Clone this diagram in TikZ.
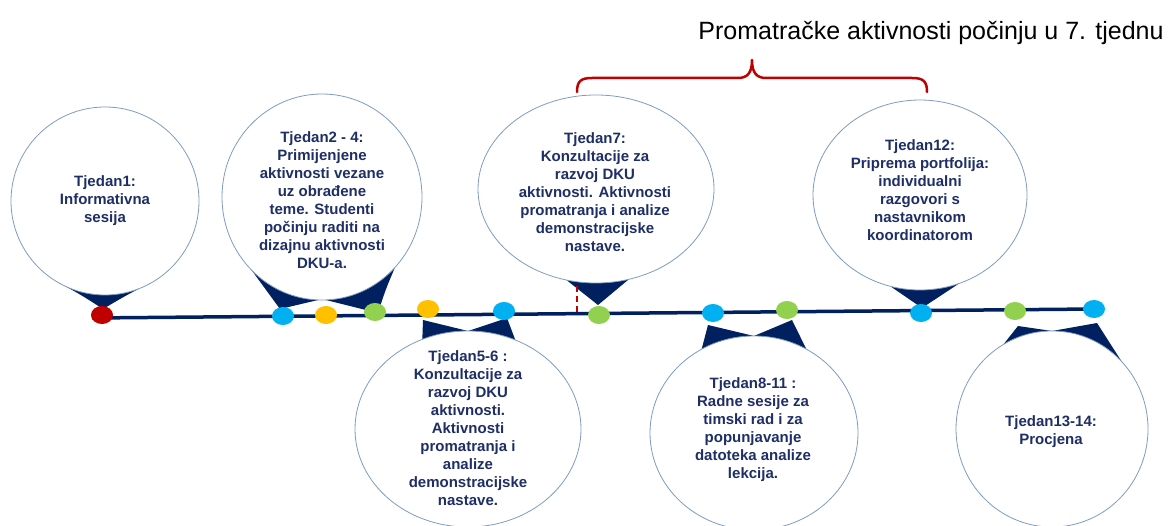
\documentclass[tikz,border=0pt]{standalone}
\usepackage{fontspec}
\setmainfont{Liberation Sans}
\usetikzlibrary{shapes.geometric,calc}
\pgfdeclarelayer{bg}
\pgfsetlayers{bg,main}
\definecolor{navy}{HTML}{002060}
\definecolor{txtnavy}{HTML}{1F2F66}
\definecolor{ring}{HTML}{7F9CC0}
\definecolor{dred}{HTML}{C00000}
\definecolor{dblue}{HTML}{00B0F0}
\definecolor{dorange}{HTML}{FFC000}
\definecolor{dgreen}{HTML}{92D050}
\tikzset{
 bubble/.style={ellipse, draw=ring, line width=0.8pt, fill=white, inner sep=0pt, outer sep=0pt},
 btext/.style={align=center, text=txtnavy, font=\fontsize{15}{18}\selectfont\bfseries, inner sep=0pt},
 dot/.style={ellipse, minimum width=22pt, minimum height=18pt, inner sep=0pt},
 tailfill/.style={fill=navy},
 timeline/.style={draw=navy, line width=3.5pt},
 brace/.style={draw=dred, line width=2.5pt, line cap=round, line join=round},
 marker/.style={draw=dred, line width=2.5pt, dash pattern=on 6pt off 4pt},
 title/.style={font=\fontsize{25}{30}\selectfont, text=black, inner sep=0pt},
}
\newcommand\calltail[3]{%
 \coordinate (tm) at ($(#1)!.5!(#3)$);
 \fill[tailfill] (#1) .. controls ($(#1)!.5!(#2)!.04!(tm)$) .. (#2)
   .. controls ($(#2)!.5!(#3)!.04!(tm)$) .. (#3) -- cycle;}
\begin{document}
\begin{tikzpicture}[x=1pt,y=-1pt]
\useasboundingbox (0,0) rectangle (1169,526);

% bubbles
\node[bubble, minimum width=188pt, minimum height=188pt] (c1) at (105,201) {};
\node[btext] (x1) at (105,201) {Tjedan1:\\Informativna\\sesija};
\node[bubble, minimum width=200pt, minimum height=206pt] (c2) at (322,197) {};
\node[btext] (x2) at (322,200) {Tjedan2 - 4:\\Primijenjene\\aktivnosti vezane\\uz obrađene\\teme. Studenti\\počinju raditi na\\dizajnu aktivnosti\\DKU-a.};
\node[bubble, minimum width=226pt, minimum height=196pt] (c3) at (468,429) {};
\node[btext] (x3) at (468,428) {Tjedan5-6 :\\Konzultacije za\\razvoj DKU\\aktivnosti.\\Aktivnosti\\promatranja i\\analize\\demonstracijske\\nastave.};
\node[bubble, minimum width=236pt, minimum height=188pt] (c4) at (596,189) {};
\node[btext] (x4) at (595,192) {Tjedan7:\\Konzultacije za\\razvoj DKU\\aktivnosti. Aktivnosti\\promatranja i analize\\demonstracijske\\nastave.};
\node[bubble, minimum width=208pt, minimum height=194pt] (c5) at (754,433) {};
\node[btext] (x5) at (753,430) {Tjedan8-11 :\\Radne sesije za\\timski rad i za\\popunjavanje\\datoteka analize\\lekcija.};
\node[bubble, minimum width=214pt, minimum height=190pt] (c6) at (920,195) {};
\node[btext] (x6) at (920,190) {Tjedan12:\\Priprema portfolija:\\individualni\\razgovori s\\nastavnikom\\koordinatorom};
\node[bubble, minimum width=192pt, minimum height=196pt] (c7) at (1052,429) {};
\node[btext] (x7) at (1051,432) {Tjedan13-14:\\Procjena};

% dots
\node[dot, fill=dred] (d1) at (102,315) {};
\node[dot, fill=dblue] (d2) at (283,316) {};
\node[dot, fill=dorange] (d3) at (326,315) {};
\node[dot, fill=dgreen] (d4) at (375,312) {};
\node[dot, fill=dorange] (d5) at (428,309) {};
\node[dot, fill=dblue] (d6) at (504,311) {};
\node[dot, fill=dgreen] (d7) at (599,315) {};
\node[dot, fill=dblue] (d8) at (713,313) {};
\node[dot, fill=dgreen] (d9) at (787,310) {};
\node[dot, fill=dblue] (d10) at (921,313) {};
\node[dot, fill=dgreen] (d11) at (1015,311) {};
\node[dot, fill=dblue] (d12) at (1094,309) {};

% tips
\coordinate (t1) at (103,309);
\coordinate (t2a) at (280,309);
\coordinate (t2b) at (378,313);
\coordinate (t3a) at (423,320);
\coordinate (t3b) at (507,318);
\coordinate (t4) at (598,305);
\coordinate (t5a) at (708,325);
\coordinate (t5b) at (792,320);
\coordinate (t6) at (922,308);
\coordinate (t7a) at (1018,326);
\coordinate (t7b) at (1097,323);
\coordinate (l0) at (92,318);
\coordinate (l1) at (1095,309);

\begin{pgfonlayer}{bg}
\draw[timeline] (l0) -- (l1);
\calltail{c1.238}{t1}{c1.302}
\calltail{c2.226}{t2a}{c2.268}
\calltail{c2.272}{t2b}{c2.316}
\calltail{c3.117}{t3a}{c3.90}
\calltail{c3.90}{t3b}{c3.62}
\calltail{c4.252}{t4}{c4.290}
\calltail{c5.122}{t5a}{c5.90}
\calltail{c5.90}{t5b}{c5.58}
\calltail{c6.252}{t6}{c6.294}
\calltail{c7.120}{t7a}{c7.90}
\calltail{c7.90}{t7b}{c7.44}
\end{pgfonlayer}

% red marker and brace
\coordinate (r1) at (577,286);
\coordinate (r2) at (577,313);
\draw[marker] (r1) -- (r2);
\coordinate (b0) at (577,92);
\coordinate (b1) at (927,92);
\coordinate (bp) at (752,60);
\draw[brace] (b0) .. controls (577,81) and (581,78) .. (592,78) -- (738,78)
  .. controls (748,78) and (752,72) .. (bp)
  .. controls (752,72) and (756,78) .. (766,78) -- (912,78)
  .. controls (923,78) and (927,81) .. (b1);

\node[title, anchor=base] (tt) at (931,40) {Promatračke aktivnosti počinju u 7. tjednu};
\end{tikzpicture}
\end{document}
